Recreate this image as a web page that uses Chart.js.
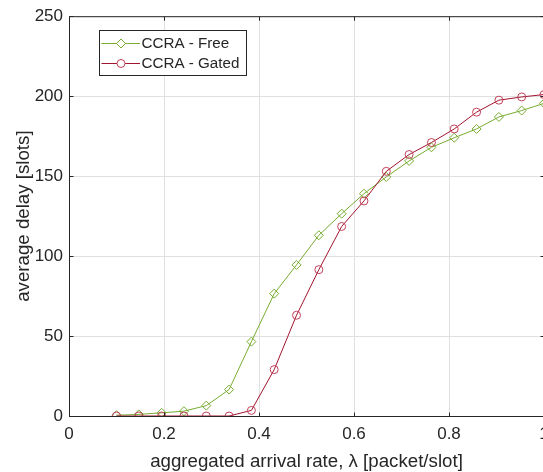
<!DOCTYPE html>
<html lang="en">
<head>
    <meta charset="UTF-8">
    <title>CCRA average delay</title>
    <script src="https://cdn.jsdelivr.net/npm/chart.js"></script>
    <style>
        html, body {
            margin: 0;
            padding: 0;
            background: #ffffff;
            overflow: hidden;
        }
        #wrap {
            width: 543px;
            height: 472px;
            overflow: hidden;
        }
    </style>
</head>
<body>
    <div id="wrap">
        <canvas id="delayChart" width="560" height="472"></canvas>
    </div>

    <script>
        // values
        const lambda = [0.1, 0.147, 0.195, 0.242, 0.289, 0.337, 0.384, 0.432, 0.479, 0.526,
                        0.574, 0.621, 0.668, 0.716, 0.763, 0.811, 0.858, 0.905, 0.953, 1.0];
        const delayFree = [0.5, 1, 2, 3, 6.5, 16.5, 46.5, 76.5, 94.5, 113,
                           126.5, 139, 149.5, 159.5, 168, 174, 179.5, 187, 191, 195.5];
        const delayGated = [0, 0, 0, 0, 0, 0, 3.5, 29, 63, 91.5,
                            118.5, 134.5, 153, 163.5, 171, 179.5, 190, 197.5, 199.5, 201];

        const seriesNames = ['CCRA - Free', 'CCRA - Gated'];
        const xTicks = [0, 0.2, 0.4, 0.6, 0.8, 1];
        const yTicks = [0, 50, 100, 150, 200, 250];

        const GREEN = '#77ac30';
        const RED = '#a2142f';
        const RED_MARK = '#c0405a';
        const AXIS = '#262626';
        const FONT = "'Liberation Sans', Arial, sans-serif";

        Chart.defaults.font.family = FONT;
        Chart.defaults.color = AXIS;

        const toPoints = ys => ys.map((y, i) => ({ x: lambda[i], y: y }));

        // box, inward ticks, axis titles and legend (MATLAB look)
        const framePlugin = {
            id: 'frame',
            afterDraw(chart) {
                const { ctx, chartArea: a, scales } = chart;
                ctx.save();
                ctx.strokeStyle = AXIS;
                ctx.lineWidth = 1;
                ctx.strokeRect(a.left + 0.5, a.top + 0.5, a.right - a.left, a.bottom - a.top);

                const tl = 4;
                ctx.beginPath();
                xTicks.forEach(v => {
                    const px = Math.round(scales.x.getPixelForValue(v)) + 0.5;
                    ctx.moveTo(px, a.bottom + 0.5); ctx.lineTo(px, a.bottom + 0.5 - tl);
                    ctx.moveTo(px, a.top + 0.5); ctx.lineTo(px, a.top + 0.5 + tl);
                });
                yTicks.forEach(v => {
                    const py = Math.round(scales.y.getPixelForValue(v)) + 0.5;
                    ctx.moveTo(a.left + 0.5, py); ctx.lineTo(a.left + 0.5 + tl, py);
                    ctx.moveTo(a.right + 0.5, py); ctx.lineTo(a.right + 0.5 - tl, py);
                });
                ctx.stroke();

                // axis titles
                ctx.fillStyle = AXIS;
                ctx.font = '18.7px ' + FONT;
                ctx.textAlign = 'center';
                ctx.textBaseline = 'alphabetic';
                ctx.fillText('aggregated arrival rate, \u03bb [packet/slot]', (a.left + a.right) / 2, 466.5);
                ctx.save();
                ctx.translate(28.5, (a.top + a.bottom) / 2);
                ctx.rotate(-Math.PI / 2);
                ctx.fillText('average delay [slots]', 0, 0);
                ctx.restore();

                // legend
                const lx = 99.5, ly = 30.5, lw = 147, lh = 45;
                ctx.fillStyle = '#ffffff';
                ctx.fillRect(lx, ly, lw, lh);
                ctx.strokeStyle = AXIS;
                ctx.strokeRect(lx, ly, lw, lh);
                const rows = [
                    { name: seriesNames[0], color: GREEN, mark: GREEN, style: 'rectRot', r: 4.5, y: 43.5 },
                    { name: seriesNames[1], color: RED, mark: RED_MARK, style: 'circle', r: 4, y: 63.5 }
                ];
                ctx.font = '15.2px ' + FONT;
                ctx.textAlign = 'left';
                rows.forEach(row => {
                    ctx.strokeStyle = row.color;
                    ctx.lineWidth = 1;
                    ctx.beginPath();
                    ctx.moveTo(101.5, row.y); ctx.lineTo(140, row.y);
                    ctx.stroke();
                    ctx.fillStyle = '#ffffff';
                    ctx.strokeStyle = row.mark;
                    Chart.helpers.drawPoint(ctx, { pointStyle: row.style, radius: row.r, borderWidth: 1 }, 121, row.y);
                    ctx.fillStyle = AXIS;
                    ctx.fillText(row.name, 141.5, row.y + 4.8);
                });
                ctx.restore();
            }
        };

        new Chart(document.getElementById('delayChart'), {
            type: 'line',
            data: {
                datasets: [
                    {
                        label: seriesNames[0],
                        data: toPoints(delayFree),
                        borderColor: GREEN,
                        borderWidth: 1,
                        pointStyle: 'rectRot',
                        pointRadius: 4.5,
                        pointBorderColor: GREEN,
                        pointBackgroundColor: 'rgba(0,0,0,0)',
                        pointBorderWidth: 1,
                        tension: 0,
                        order: 1
                    },
                    {
                        label: seriesNames[1],
                        data: toPoints(delayGated),
                        borderColor: RED,
                        borderWidth: 1,
                        pointStyle: 'circle',
                        pointRadius: 4,
                        pointBorderColor: RED_MARK,
                        pointBackgroundColor: 'rgba(0,0,0,0)',
                        pointBorderWidth: 1,
                        tension: 0,
                        order: 0
                    }
                ]
            },
            options: {
                responsive: false,
                animation: false,
                devicePixelRatio: 1,
                layout: { padding: { top: 13, right: 16, left: 0, bottom: 0 } },
                plugins: {
                    legend: { display: false },
                    tooltip: { enabled: false }
                },
                scales: {
                    x: {
                        type: 'linear',
                        min: 0,
                        max: 1,
                        afterBuildTicks: scale => { scale.ticks = xTicks.map(v => ({ value: v })); },
                        afterFit: scale => { scale.height = 56; },
                        ticks: {
                            padding: 8,
                            font: { size: 17 },
                            color: AXIS,
                            maxRotation: 0,
                            callback: v => String(Math.round(v * 10) / 10)
                        },
                        grid: { color: '#e0e0e0', drawTicks: false },
                        border: { display: false }
                    },
                    y: {
                        min: 0,
                        max: 250,
                        afterBuildTicks: scale => { scale.ticks = yTicks.map(v => ({ value: v })); },
                        afterFit: scale => { scale.width = 69; },
                        ticks: {
                            padding: 6,
                            font: { size: 17 },
                            color: AXIS
                        },
                        grid: { color: '#e0e0e0', drawTicks: false },
                        border: { display: false }
                    }
                }
            },
            plugins: [framePlugin]
        });
    </script>
</body>
</html>
